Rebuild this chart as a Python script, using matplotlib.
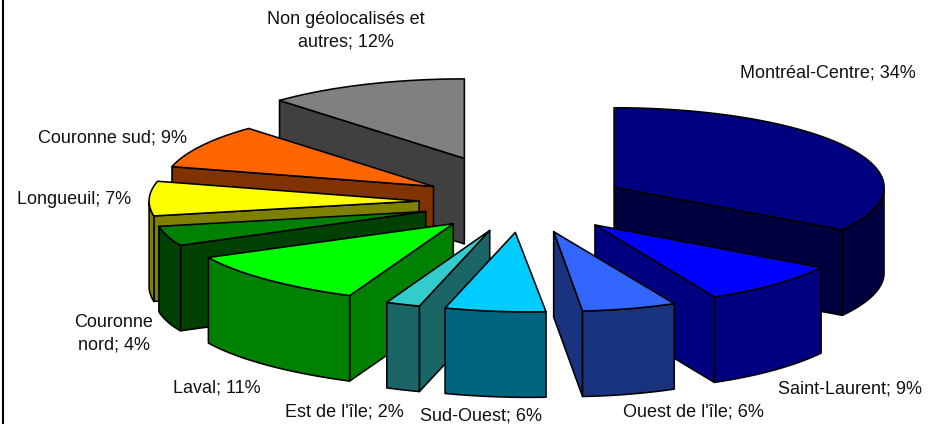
import numpy as np
import matplotlib
matplotlib.use("Agg")
import matplotlib.pyplot as plt
from matplotlib.patches import Polygon

plt.rcParams['font.family'] = ['Liberation Sans', 'DejaVu Sans']

# parts of the pie, clockwise from 12 o'clock
regions = ["Montréal-Centre", "Saint-Laurent", "Ouest de l'île", "Sud-Ouest", "Est de l'île",
           "Laval", "Couronne\nnord", "Longueuil", "Couronne sud", "Non géolocalisés et\nautres"]
shares = [34, 9, 6, 6, 2, 11, 4, 7, 9, 12]
explode = [0.385, 0.385, 0.385, 0.385, 0.385, 0.385, 0.385, 0.385, 0.385, 0.59]
top_colors = ["#000080", "#0000FF", "#3366FF", "#00CCFF", "#33CCCC",
              "#00FF00", "#008000", "#FFFF00", "#FF6600", "#808080"]
side_colors = ["#000040", "#000080", "#1A337F", "#006680", "#1A6666",
               "#008000", "#004000", "#808000", "#803300", "#404040"]

# label centres in pixels
label_x = [828, 850, 693, 481, 344, 217, 114, 74, 112, 346]
label_y = [73, 389, 412, 416, 412, 388, 334, 199, 138, 31]

# projection of the tilted disc to pixels
cx, cy = 523, 202
rx, ry = 270, 79.5
depth = 85.5


def project(u, v):
    u = np.asarray(u, float)
    v = np.asarray(v, float)
    # the front of the pie leans a bit to the right, fading out to both sides
    fade = np.where(u > 0, 1 - 0.8 * u, 1 - (u / 1.3) ** 4)
    lean = 14 * np.clip(-v, 0, None) * np.clip(fade, 0, 1)
    return cx + rx * u + lean, cy - ry * v


def face(ax, xs, ys, color):
    ax.add_patch(Polygon(np.column_stack([xs, ys]), closed=True, facecolor=color,
                         edgecolor="black", linewidth=1.15, joinstyle="round"))


fig = plt.figure(figsize=(9.38, 4.24), dpi=100)
ax = fig.add_axes([0, 0, 1, 1])
ax.set_xlim(0, 938)
ax.set_ylim(424, 0)
ax.axis("off")

edges = np.radians(np.concatenate([[0], np.cumsum(shares)]) * 3.6)
mids = (edges[:-1] + edges[1:]) / 2
apex_u = np.array(explode) * np.sin(mids)
apex_v = np.array(explode) * np.cos(mids)

# back slices first
for i in np.argsort(-apex_v):
    t1, t2 = edges[i], edges[i + 1]
    t = np.linspace(t1, t2, 80)
    rim_x, rim_y = project(apex_u[i] + np.sin(t), apex_v[i] + np.cos(t))
    ax_, ay_ = project(apex_u[i], apex_v[i])

    if np.sin(t1) < -1e-6:
        face(ax, [ax_, rim_x[0], rim_x[0], ax_], [ay_, rim_y[0], rim_y[0] + depth, ay_ + depth], side_colors[i])
    if np.sin(t2) > 1e-6:
        face(ax, [ax_, rim_x[-1], rim_x[-1], ax_], [ay_, rim_y[-1], rim_y[-1] + depth, ay_ + depth], side_colors[i])

    front = np.cos(t) < 0
    if front.any():
        fx, fy = rim_x[front], rim_y[front]
        face(ax, np.r_[fx, fx[::-1]], np.r_[fy, fy[::-1] + depth], side_colors[i])

    face(ax, np.r_[ax_, rim_x], np.r_[ay_, rim_y], top_colors[i])

for name, share, x, y in zip(regions, shares, label_x, label_y):
    ax.text(x, y, f"{name}; {share}%", ha="center", va="center", fontsize=13,
            linespacing=1.41, color="#111111", clip_on=True)

# frame of the original chart
ax.plot([3, 3], [0, 424], color="black", linewidth=1.5)

fig.savefig("out.png", dpi=100)
